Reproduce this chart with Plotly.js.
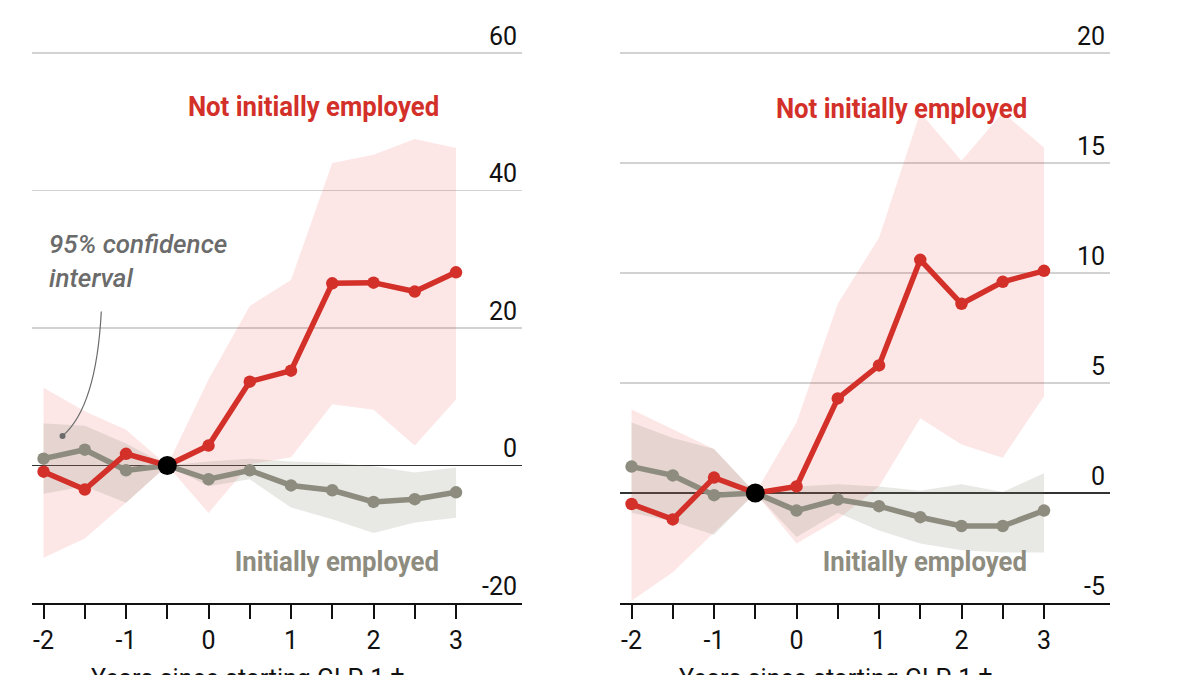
<!DOCTYPE html>
<html>
<head>
<meta charset="utf-8">
<script src="https://cdn.plot.ly/plotly-3.0.1.min.js"></script>
<style>
  html, body { margin: 0; padding: 0; background: #fff; }
  #chart { width: 1200px; height: 675px; }
</style>
</head>
<body>
<div id="chart"></div>
<script>
let years = [-2, -1.5, -1, -0.5, 0, 0.5, 1, 1.5, 2, 2.5, 3];

// left panel
let leftNotEmp   = [-0.9, -3.5, 1.7, 0, 2.9, 12.2, 13.8, 26.5, 26.6, 25.3, 28.1];
let leftNotHi    = [11.3, 7.9, 5.2, 0, 12.5, 23.2, 27.0, 44.0, 45.2, 47.5, 46.2];
let leftNotLo    = [-13.4, -10.6, -5.4, 0, -6.9, 0.2, 1.2, 8.9, 8.1, 2.9, 9.6];
let leftEmp      = [1.0, 2.3, -0.7, 0, -2.0, -0.7, -2.9, -3.6, -5.3, -4.9, -3.9];
let leftEmpHi    = [6.1, 5.8, 3.2, 0, 0.6, 1.0, 0.6, 0.4, -0.1, -1.0, -0.3];
let leftEmpLo    = [-4.1, -3.0, -5.4, 0, -3.0, -2.0, -6.1, -7.8, -9.8, -8.3, -7.6];

// right panel
let rightNotEmp  = [-0.5, -1.2, 0.7, 0, 0.3, 4.3, 5.8, 10.6, 8.6, 9.6, 10.1];
let rightNotHi   = [3.8, 2.9, 2.0, 0, 3.2, 8.6, 11.6, 17.3, 15.1, 17.3, 15.7];
let rightNotLo   = [-4.9, -3.6, -1.8, 0, -2.3, -1.2, 0.3, 3.4, 2.2, 1.6, 4.4];
let rightEmp     = [1.2, 0.8, -0.1, 0, -0.8, -0.3, -0.6, -1.1, -1.5, -1.5, -0.8];
let rightEmpHi   = [3.2, 2.5, 2.0, 0, 0.3, 0.4, 0.3, 0.1, 0.4, 0.05, 0.9];
let rightEmpLo   = [-0.9, -1.3, -1.9, 0, -2.0, -0.9, -1.7, -2.3, -2.6, -2.7, -2.7];

let leftTicks      = [-20, 0, 20, 40, 60];
let leftTickText   = ['-20', '0', '20', '40', '60'];
let rightTicks     = [-5, 0, 5, 10, 15, 20];
let rightTickText  = ['-5', '0', '5', '10', '15', '20'];
let xTickText      = ['-2', '', '-1', '', '0', '', '1', '', '2', '', '3'];

let baseYear = -0.5;
let baseValue = 0;

const RED = '#d3302a';
const GREY = '#8d8c7f';
const PINK_FILL = 'rgba(228, 70, 60, 0.13)';
const GREY_FILL = 'rgba(120, 118, 100, 0.17)';
const PLAIN = 'Roboto, "Liberation Sans", sans-serif';

function band(hi, lo, fill, xa, ya) {
    return {
        x: years.concat(years.slice().reverse()),
        y: hi.concat(lo.slice().reverse()),
        xaxis: xa, yaxis: ya,
        fill: 'toself', fillcolor: fill,
        line: {width: 0}, mode: 'lines',
        hoverinfo: 'skip', showlegend: false
    };
}

function line(vals, color, xa, ya) {
    return {
        x: years, y: vals, xaxis: xa, yaxis: ya,
        mode: 'lines+markers',
        line: {color: color, width: 5.5},
        marker: {color: color, size: 12.5},
        showlegend: false
    };
}

function baseDot(xa, ya) {
    return {
        x: [baseYear], y: [baseValue], xaxis: xa, yaxis: ya,
        mode: 'markers', marker: {color: '#000', size: 19},
        showlegend: false
    };
}

let data = [
    band(leftNotHi, leftNotLo, PINK_FILL, 'x', 'y'),
    band(leftEmpHi, leftEmpLo, GREY_FILL, 'x', 'y'),
    line(leftEmp, GREY, 'x', 'y'),
    line(leftNotEmp, RED, 'x', 'y'),
    baseDot('x', 'y'),
    band(rightNotHi, rightNotLo, PINK_FILL, 'x2', 'y2'),
    band(rightEmpHi, rightEmpLo, GREY_FILL, 'x2', 'y2'),
    line(rightEmp, GREY, 'x2', 'y2'),
    line(rightNotEmp, RED, 'x2', 'y2'),
    baseDot('x2', 'y2')
];

function xAxis(domain, anchor) {
    return {
        domain: domain, anchor: anchor,
        range: [-2.14, 3.8],
        tickvals: years, ticktext: xTickText,
        ticks: 'outside', ticklen: 14, tickwidth: 2, tickcolor: '#111',
        showline: true, linecolor: '#111', linewidth: 2,
        showgrid: false, zeroline: false,
        tickfont: {family: PLAIN, size: 25, color: '#111'},
        fixedrange: true
    };
}

function yAxis(range, ticks, text, anchor) {
    return {
        anchor: anchor, side: 'right',
        range: range, tickvals: ticks, ticktext: text,
        ticklabelposition: 'inside', ticklabelshift: -17, ticklabelstandoff: 2,
        showgrid: true, gridcolor: '#d2d2d2', gridwidth: 1.5,
        zeroline: true, zerolinecolor: '#333', zerolinewidth: 1.5,
        showline: false, ticks: '',
        tickfont: {family: PLAIN, size: 25, color: '#111'},
        fixedrange: true
    };
}

let labelFont = (c) => ({family: PLAIN, size: 28, color: c, weight: 700});

let annotations = [
    {xref: 'x', yref: 'y', x: 2.82, y: 52.2, xanchor: 'right', yanchor: 'middle',
     text: 'Not initially employed', showarrow: false, font: labelFont(RED)},
    {xref: 'x', yref: 'y', x: 2.82, y: -14.0, xanchor: 'right', yanchor: 'middle',
     text: 'Initially employed', showarrow: false, font: labelFont(GREY)},
    {xref: 'x2', yref: 'y2', x: 2.82, y: 17.5, xanchor: 'right', yanchor: 'middle',
     text: 'Not initially employed', showarrow: false, font: labelFont(RED)},
    {xref: 'x2', yref: 'y2', x: 2.82, y: -3.1, xanchor: 'right', yanchor: 'middle',
     text: 'Initially employed', showarrow: false, font: labelFont(GREY)},
    {xref: 'x', yref: 'y', x: -1.96, y: 29.7, xanchor: 'left', yanchor: 'middle', align: 'left',
     text: '95% confidence<br>interval', showarrow: false,
     font: {family: PLAIN, size: 26, color: '#6b6b6b', style: 'italic', weight: 500}},
    {xref: 'x domain', yref: 'paper', x: 0.44, y: -0.102, xanchor: 'center', yanchor: 'top',
     text: 'Years since starting GLP-1 †', showarrow: false,
     font: {family: PLAIN, size: 25, color: '#111'}},
    {xref: 'x2 domain', yref: 'paper', x: 0.44, y: -0.102, xanchor: 'center', yanchor: 'top',
     text: 'Years since starting GLP-1 †', showarrow: false,
     font: {family: PLAIN, size: 25, color: '#111'}}
];

let shapes = [
    {type: 'path', xref: 'x', yref: 'y', path: 'M -1.3,22.4 Q -1.36,8.5 -1.77,4.3',
     line: {color: '#6b6b6b', width: 1.2}},
    {type: 'circle', xref: 'x', yref: 'y', xsizemode: 'pixel', ysizemode: 'pixel',
     xanchor: -1.77, yanchor: 4.3, x0: -3, x1: 3, y0: -3, y1: 3,
     fillcolor: '#6b6b6b', line: {width: 0}}
];

// plot area runs from y=20 to y=603; the top gridlines sit at y=53
let layout = {
    width: 1200, height: 675,
    margin: {l: 0, r: 0, t: 20, b: 72},
    paper_bgcolor: '#fff', plot_bgcolor: 'rgba(0,0,0,0)',
    showlegend: false,
    xaxis: xAxis([32 / 1200, 522 / 1200], 'y'),
    yaxis: yAxis([-20, 64.8], leftTicks, leftTickText, 'x'),
    xaxis2: xAxis([620 / 1200, 1110 / 1200], 'y2'),
    yaxis2: yAxis([-5, 21.5], rightTicks, rightTickText, 'x2'),
    annotations: annotations,
    shapes: shapes
};

// the series labels use a condensed face in the original, squeeze them horizontally
function squeezeLabels() {
    let texts = document.querySelectorAll('#chart .annotation-text');
    texts.forEach(function(t, i) {
        if (i > 3) return;
        let b = t.getBBox();
        let right = b.x + b.width;
        t.setAttribute('transform',
            'translate(' + right + ',0) scale(0.92,1) translate(' + (-right) + ',0)');
    });
}

Plotly.newPlot('chart', data, layout, {displayModeBar: false, staticPlot: true})
    .then(squeezeLabels);
</script>
</body>
</html>
